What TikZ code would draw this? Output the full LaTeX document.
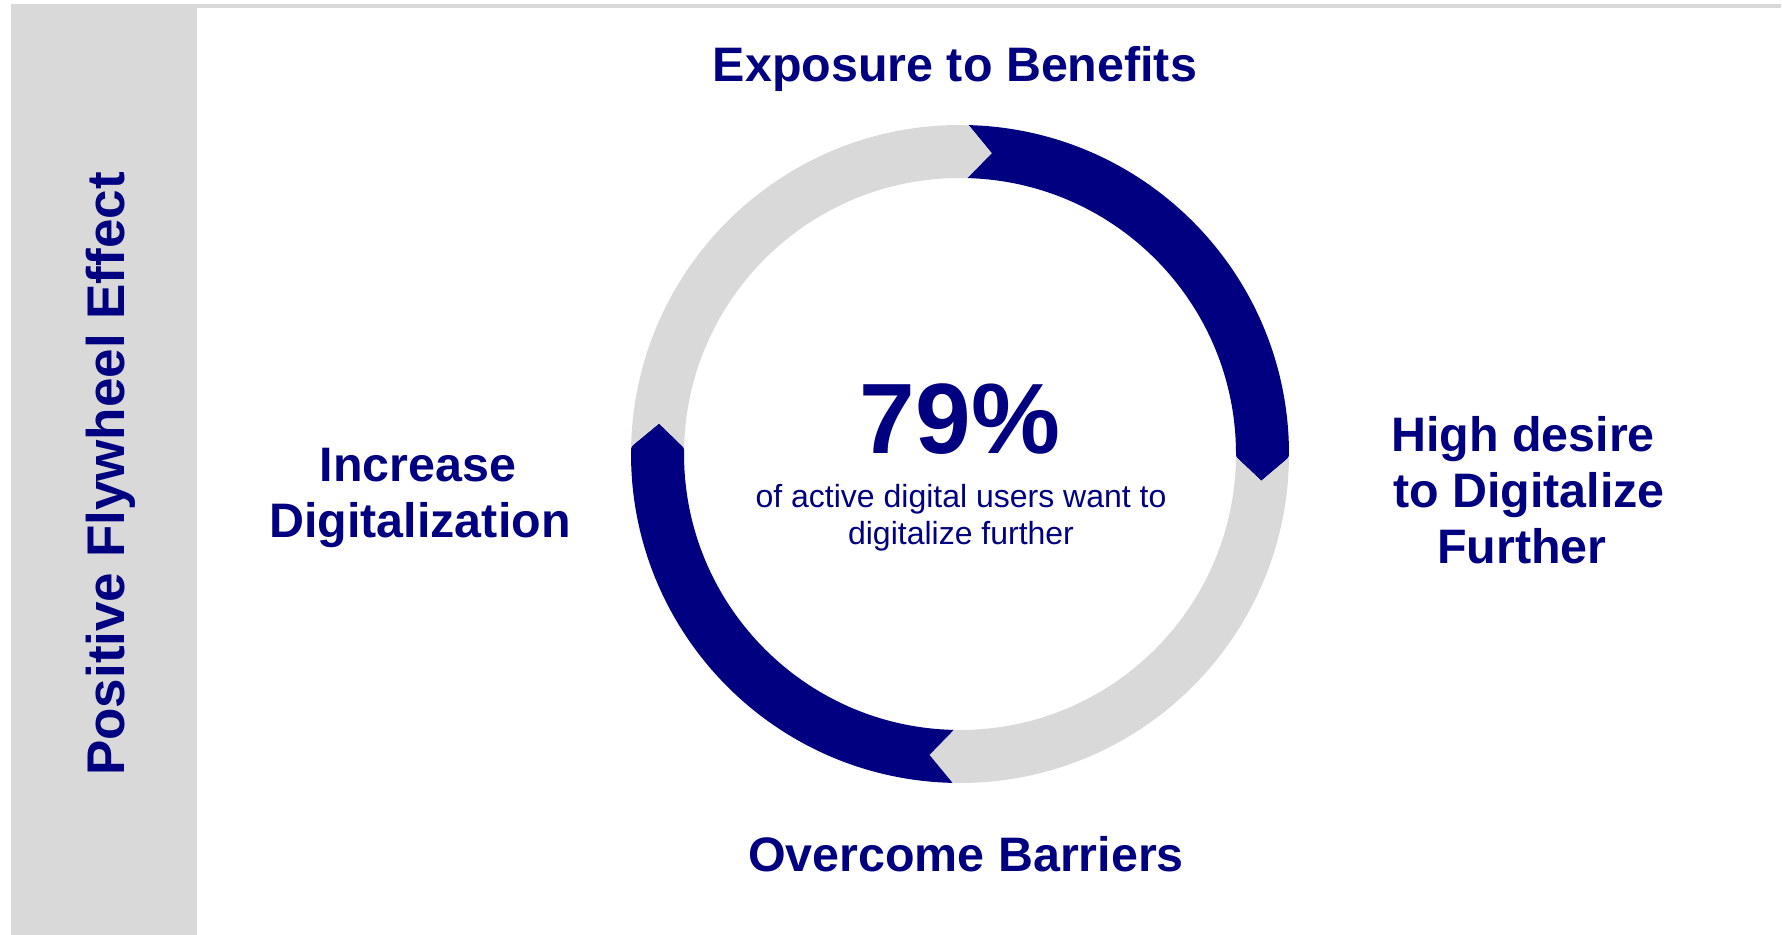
\documentclass[tikz,border=0pt]{standalone}
\usepackage{fontspec}
\usetikzlibrary{calc}
\setmainfont{Liberation Sans}
\definecolor{navy}{RGB}{0,0,128}
\definecolor{ltgray}{RGB}{217,217,217}
\newcommand{\Ro}{329}
\newcommand{\Ri}{276}
\newcommand{\Rm}{302.5}
\newcommand{\dl}{4.5}
\newcommand{\ringseg}[3]{\fill[#1] (#2:\Ro) arc[start angle=#2, end angle={#3+1}, radius=\Ro]
  .. controls (#3:\Ro) .. ($(#3:\Ro)!0.16!({#3-\dl}:\Rm)$) -- ({#3-\dl}:\Rm)
  -- ($(#3:\Ri)!0.16!({#3-\dl}:\Rm)$) .. controls (#3:\Ri) .. ({#3+1}:\Ri)
  arc[start angle={#3+1}, end angle=#2, radius=\Ri] -- ({#2-\dl}:\Rm) -- cycle;}
\begin{document}
\begin{tikzpicture}[x=0.5pt,y=0.5pt,
  lbl/.style={text=navy, font=\bfseries\fontsize{24.2}{29}\selectfont, inner sep=0pt, anchor=base},
  bignum/.style={text=navy, font=\bfseries\fontsize{50}{60}\selectfont, inner sep=0pt, anchor=base},
  subtxt/.style={text=navy, font=\fontsize{16}{19}\selectfont, inner sep=0pt, anchor=base},
  sidetxt/.style={text=navy, font=\bfseries\fontsize{26.5}{32}\selectfont, inner sep=0pt, anchor=base, rotate=90}]
\useasboundingbox (0,0) rectangle (1782,935);
% frame
\fill[ltgray] (11,0) rectangle (197,931);
\fill[ltgray] (11,927) rectangle (1781,931);
% ring
\begin{scope}[shift={(960,481)}]
  \ringseg{navy}{88.5}{-0.6}
  \ringseg{ltgray}{-0.6}{-91.3}
  \ringseg{navy}{-91.3}{-181.3}
  \ringseg{ltgray}{178.7}{88.5}
\end{scope}
% labels
\node[lbl] (exp) at (955,853) {Exposure to Benefits};
\node[bignum] (pct) at (960,481) {79\%};
\node[subtxt] (sub1) at (961,427) {of active digital users want to};
\node[subtxt] (sub2) at (961,390) {digitalize further};
\node[lbl] (hd1) at (1523,483) {High desire};
\node[lbl] (hd2) at (1529,427) {to Digitalize};
\node[lbl] (hd3) at (1522,371) {Further};
\node[lbl] (inc1) at (418,453) {Increase};
\node[lbl] (inc2) at (420,397) {Digitalization};
\node[lbl] (ovc) at (966,63) {Overcome Barriers};
\node[sidetxt] (side) at (124,461) {Positive Flywheel Effect};
\end{tikzpicture}
\end{document}
